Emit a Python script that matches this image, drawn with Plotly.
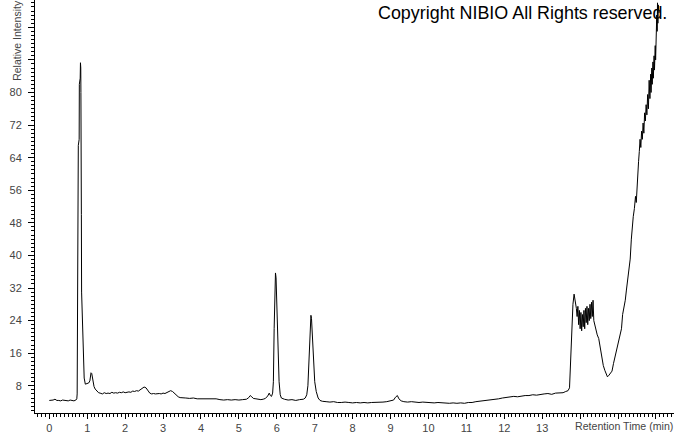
import plotly.graph_objects as go

# Retention time (min)
time = [
    0.00, 0.05, 0.10, 0.15, 0.20, 0.25, 0.30, 0.35, 0.40, 0.45, 0.50, 0.55, 0.60, 0.65, 0.70,
    0.725, 0.735, 0.740, 0.760, 0.765, 0.788, 0.792, 0.815, 0.822, 0.830, 0.834, 0.838, 0.846,
    0.852, 0.880, 0.900, 0.920, 0.950, 0.980, 1.000, 1.040, 1.070, 1.100, 1.120, 1.150, 1.180,
    1.210, 1.260, 1.300, 1.340, 1.400, 1.450, 1.500, 1.550, 1.600, 1.650, 1.700, 1.750, 1.800,
    1.850, 1.900, 1.950, 2.000, 2.050, 2.100, 2.150, 2.200, 2.250, 2.300, 2.350, 2.400, 2.450,
    2.500, 2.550, 2.600, 2.650, 2.700, 2.750, 2.800, 2.850, 2.900, 2.950, 3.000, 3.050, 3.100,
    3.150, 3.200, 3.250, 3.300, 3.350, 3.400, 3.450, 3.500, 3.600, 3.700, 3.800, 3.900, 4.000,
    4.100, 4.200, 4.300, 4.400, 4.500, 4.600, 4.700, 4.800, 4.900, 5.000, 5.100, 5.200, 5.260,
    5.300, 5.340, 5.380, 5.450, 5.500, 5.580, 5.640, 5.700, 5.760, 5.800, 5.830, 5.860, 5.890,
    5.910, 5.930, 5.950, 5.965, 5.980, 5.995, 6.020, 6.040, 6.060, 6.090, 6.120, 6.200, 6.300,
    6.400, 6.500, 6.600, 6.700, 6.750, 6.790, 6.820, 6.850, 6.880, 6.900, 6.915, 6.940, 6.970,
    7.000, 7.040, 7.090, 7.140, 7.200, 7.300, 7.400, 7.500, 7.600, 7.700, 7.800, 7.900, 8.000,
    8.100, 8.200, 8.300, 8.400, 8.500, 8.600, 8.700, 8.800, 8.900, 9.000, 9.080, 9.130, 9.180,
    9.220, 9.280, 9.350, 9.450, 9.550, 9.650, 9.750, 9.850, 9.950, 10.05, 10.15, 10.25, 10.35,
    10.45, 10.55, 10.65, 10.75, 10.85, 10.95, 11.05, 11.15, 11.25, 11.35, 11.45, 11.55, 11.65,
    11.75, 11.85, 11.95, 12.05, 12.15, 12.25, 12.35, 12.45, 12.55, 12.65, 12.75, 12.85, 12.95,
    13.05, 13.15, 13.25, 13.35, 13.45, 13.55, 13.62, 13.68, 13.72, 13.75, 13.78, 13.81, 13.84,
    13.87, 13.90, 13.92, 13.94, 13.96, 13.98, 14.00, 14.02, 14.04, 14.06, 14.08, 14.10, 14.12,
    14.14, 14.16, 14.18, 14.20, 14.22, 14.24, 14.26, 14.28, 14.30, 14.32, 14.34, 14.36, 14.38,
    14.41, 14.45, 14.49, 14.53, 14.57, 14.61, 14.65, 14.69, 14.72, 14.76, 14.80, 14.84, 14.88,
    14.92, 14.95, 14.99, 15.03, 15.06, 15.09, 15.12, 15.15, 15.19, 15.22, 15.25, 15.29, 15.32,
    15.35, 15.37, 15.40, 15.43, 15.46, 15.48, 15.50, 15.52, 15.54, 15.56, 15.58, 15.60, 15.62,
    15.64, 15.66, 15.68, 15.70, 15.72, 15.74, 15.76, 15.78, 15.80, 15.82, 15.84, 15.86, 15.87,
    15.89, 15.90, 15.92, 15.93, 15.95, 15.96, 15.98, 15.99, 16.00, 16.01, 16.02, 16.03, 16.04,
    16.05, 16.06, 16.08,
]

# Relative intensity (%)
intensity = [
    4.4, 4.4, 4.5, 4.7, 4.4, 4.4, 4.3, 4.5, 4.4, 4.4, 4.3, 4.5, 4.4, 4.3, 4.5,
    4.8, 6.0, 28.0, 29.5, 67.0, 68.5, 82.0, 83.5, 87.3, 86.0, 80.0, 75.0, 50.0,
    31.0, 19.6, 12.5, 9.9, 8.4, 8.5, 8.6, 8.7, 9.2, 11.2, 11.0, 8.8, 7.8,
    7.2, 6.6, 6.3, 6.2, 6.0, 6.3, 6.1, 6.2, 6.1, 6.4, 6.2, 6.3, 6.2,
    6.4, 6.3, 6.5, 6.3, 6.4, 6.5, 6.4, 6.7, 6.6, 6.8, 6.7, 7.1, 7.5,
    7.7, 7.5, 6.8, 6.2, 6.0, 6.1, 6.0, 6.1, 6.1, 6.0, 6.2, 6.1, 6.3,
    6.5, 6.8, 6.6, 6.1, 5.7, 5.3, 5.1, 5.1, 5.0, 4.9, 5.0, 4.8, 4.8,
    4.7, 4.8, 4.7, 4.8, 4.6, 4.5, 4.6, 4.5, 4.6, 4.5, 4.6, 4.7, 5.1,
    5.6, 5.3, 4.9, 4.8, 4.7, 4.6, 4.7, 4.9, 5.5, 6.2, 5.6, 5.4, 6.2,
    9.0, 22.0, 33.0, 35.7, 34.5, 29.0, 20.0, 14.7, 9.0, 5.8, 5.0, 4.7, 4.5,
    4.6, 4.4, 4.6, 4.7, 5.0, 5.8, 8.0, 14.0, 22.0, 25.3, 24.5, 20.0, 13.0,
    9.0, 6.6, 5.0, 4.4, 4.2, 4.1, 4.0, 4.1, 3.9, 3.9, 4.0, 3.9, 3.8,
    3.9, 3.8, 3.9, 3.8, 3.9, 3.9, 4.0, 4.0, 4.1, 4.3, 4.5, 5.2, 5.6,
    4.8, 4.3, 4.1, 4.0, 4.1, 4.0, 3.9, 4.0, 3.9, 3.9, 3.8, 3.9, 3.8,
    3.8, 3.7, 3.8, 3.7, 3.8, 3.7, 3.9, 3.9, 4.1, 4.2, 4.3, 4.5, 4.5,
    4.7, 4.8, 5.0, 5.1, 5.2, 5.4, 5.3, 5.5, 5.6, 5.6, 5.8, 5.7, 5.9,
    6.0, 6.1, 5.9, 6.2, 6.3, 6.3, 6.6, 6.8, 7.5, 14.0, 22.0, 28.0, 30.5,
    29.0, 27.0, 25.0, 27.5, 23.0, 26.5, 22.0, 26.0, 21.5, 25.5, 22.5, 26.5, 22.0,
    27.0, 23.5, 27.5, 23.0, 27.0, 24.0, 28.0, 24.5, 28.5, 25.0, 29.0, 24.0, 23.0,
    21.5, 20.5, 19.6, 17.0, 15.0, 13.0, 11.8, 10.5, 10.2, 10.6, 11.0, 11.6, 13.5,
    15.0, 16.3, 18.0, 19.5, 20.8, 22.0, 25.5, 26.9, 29.0, 31.5, 34.2, 36.5, 39.1,
    44.0, 47.3, 49.5, 51.5, 54.5, 53.0, 57.9, 60.0, 63.0, 65.5, 68.5, 66.5, 70.5,
    68.5, 72.5, 70.0, 75.0, 73.0, 77.0, 74.5, 79.5, 76.0, 83.0, 78.5, 84.5, 80.0,
    86.0, 82.0, 87.5, 83.5, 89.0, 85.5, 91.5, 88.0, 95.0, 91.0, 99.0, 95.0, 102.0,
    97.0, 101.5, 99.5,
]

x_tick_values = list(range(0, 17))
x_tick_labels = [str(v) if v <= 13 else "" for v in x_tick_values]
y_tick_values = list(range(8, 104, 8))
y_tick_labels = [str(v) if v <= 80 else "" for v in y_tick_values]

fig = go.Figure()
fig.add_trace(go.Scatter(
    x=time, y=intensity, mode="lines",
    line=dict(color="black", width=1),
    hoverinfo="skip", showlegend=False,
))

tick_font = dict(family="Liberation Sans, Arial, sans-serif", size=11, color="#444444")

fig.update_layout(
    width=674, height=434,
    margin=dict(l=35, r=0, t=0, b=19),
    paper_bgcolor="white", plot_bgcolor="white",
    showlegend=False,
    xaxis=dict(
        range=[-0.377, 16.475], showgrid=False, zeroline=False,
        showline=True, linecolor="black", linewidth=1,
        tickmode="array", tickvals=x_tick_values, ticktext=x_tick_labels,
        ticks="outside", ticklen=5, tickcolor="black", tickwidth=1,
        minor=dict(dtick=0.1, tick0=0, ticks="outside", ticklen=3,
                   tickcolor="black", tickwidth=1, showgrid=False),
        tickfont=tick_font,
    ),
    yaxis=dict(
        range=[1.32, 102.7], showgrid=False, zeroline=False,
        showline=True, linecolor="black", linewidth=1,
        tickmode="array", tickvals=y_tick_values, ticktext=y_tick_labels,
        ticks="outside", ticklen=6, tickcolor="black", tickwidth=1,
        ticklabelstandoff=4,
        minor=dict(dtick=1, tick0=0, ticks="outside", ticklen=3,
                   tickcolor="black", tickwidth=1, showgrid=False),
        tickfont=tick_font,
    ),
    annotations=[
        dict(text="Copyright NIBIO All Rights reserved.",
             xref="paper", yref="paper", x=(376 - 35) / 639, y=1 - 13 / 415,
             xanchor="left", yanchor="middle", showarrow=False,
             font=dict(family="Liberation Sans, Arial, sans-serif", size=17.9, color="black")),
        dict(text="Relative Intensity",
             xref="paper", yref="paper", x=(17 - 35) / 639, y=1 - 41 / 415,
             xanchor="center", yanchor="middle", textangle=-90, showarrow=False,
             font=dict(family="Liberation Sans, Arial, sans-serif", size=10.5, color="#444444")),
        dict(text="Retention Time (min)",
             xref="paper", yref="paper", x=(624 - 35) / 639, y=-(428 - 415) / 415,
             xanchor="center", yanchor="middle", showarrow=False,
             font=dict(family="Liberation Sans, Arial, sans-serif", size=10.6, color="#444444")),
    ],
)

fig.write_html(
    "out.html",
    config={"displayModeBar": False},
    post_script="document.body.style.margin='0';document.body.style.overflow='hidden';",
)
